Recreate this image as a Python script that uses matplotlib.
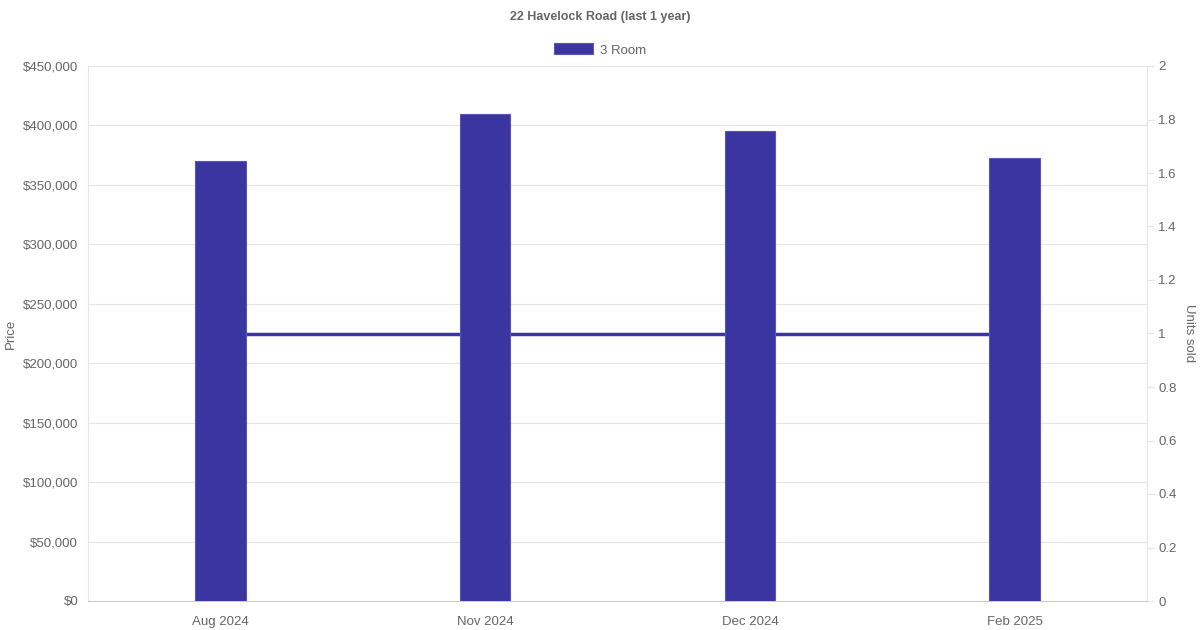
import matplotlib.pyplot as plt
from matplotlib.ticker import FuncFormatter, MultipleLocator
import numpy as np

months = ["Aug 2024", "Nov 2024", "Dec 2024", "Feb 2025"]
price_3room = [370000, 410000, 395000, 373000]
units_3room = [1, 1, 1, 1]

bar_color = "#3a35a0"
text_color = "#666666"
grid_color = "#e6e6e6"

plt.rcParams['font.family'] = ['Liberation Sans', 'DejaVu Sans']

fig = plt.figure(figsize=(12, 6.3), dpi=100)
ax = fig.add_axes([88 / 1200, 29 / 630, 1059 / 1200, 535 / 630])
ax2 = ax.twinx()

x = np.arange(len(months))

# line for units sold sits behind the bars
ax2.plot(x, units_3room, color=bar_color, linewidth=2.5, zorder=1)
ax2.set_ylim(0, 2)
ax2.yaxis.set_major_locator(MultipleLocator(0.2))
ax2.yaxis.set_major_formatter(FuncFormatter(lambda v, p: "{:g}".format(round(v, 1))))
ax2.set_ylabel("Units sold", color=text_color, fontsize=9.5, rotation=270, va="center")
ax2.yaxis.set_label_coords((1189 - 88) / 1059, 0.5)

ax.set_zorder(ax2.get_zorder() + 1)
ax.patch.set_visible(False)
ax.bar(x, price_3room, width=0.19, color=bar_color, edgecolor="#5a56b8",
       linewidth=0.8, label="3 Room", zorder=3)
ax.set_xlim(-0.5, len(months) - 0.5)
ax.set_ylim(0, 450000)
ax.yaxis.set_major_locator(MultipleLocator(50000))
ax.yaxis.set_major_formatter(FuncFormatter(lambda v, p: "${:,.0f}".format(v)))
ax.set_xticks(x)
ax.set_xticklabels(months)
ax.set_ylabel("Price", color=text_color, fontsize=9.5, va="center")
ax.yaxis.set_label_coords((11 - 88) / 1059, 0.5)
ax.grid(axis="y", color=grid_color, linewidth=0.8)
ax.set_axisbelow(True)

for a in (ax, ax2):
    for s in a.spines.values():
        s.set_visible(False)
    a.tick_params(colors=text_color, labelsize=9.5, length=0)
ax2.tick_params(axis="y", length=5, color=grid_color, pad=3)
ax.tick_params(axis="y", pad=7)
ax.tick_params(axis="x", pad=11)
ax.spines["left"].set_visible(True)
ax.spines["left"].set_color(grid_color)
ax.spines["bottom"].set_visible(True)
ax.spines["bottom"].set_color("#cccccc")
ax2.spines["right"].set_visible(True)
ax2.spines["right"].set_color(grid_color)

fig.text(0.5, 1 - 17 / 630, "22 Havelock Road (last 1 year)", ha="center", va="center",
         fontsize=9, fontweight="bold", color=text_color)
fig.legend(loc="center", bbox_to_anchor=(0.5, 1 - 50 / 630), frameon=False,
           fontsize=9.5, handlelength=3.0, handleheight=0.9, handletextpad=0.5,
           labelcolor=text_color)

plt.savefig("out.png", dpi=100)
